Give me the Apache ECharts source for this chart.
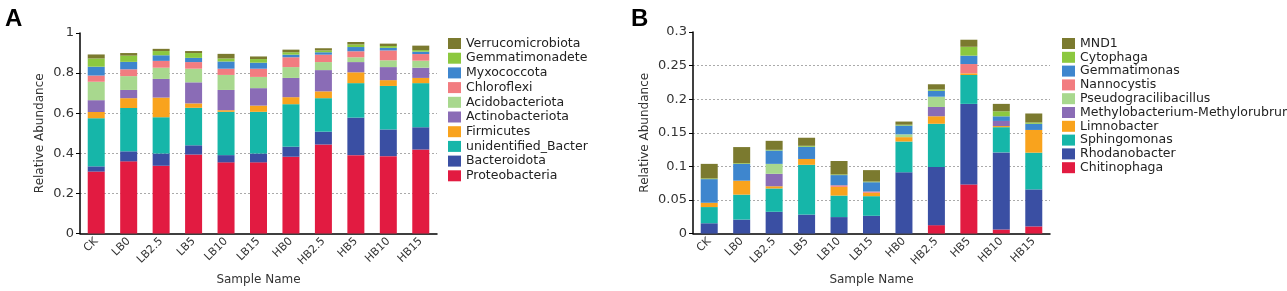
<!DOCTYPE html>
<html>
<head>
<meta charset="utf-8">
<script src="https://cdn.jsdelivr.net/npm/echarts@6/dist/echarts.min.js"></script>
<style>
  html, body { margin: 0; padding: 0; background: #fff; }
  #main { width: 1287px; height: 291px; }
</style>
</head>
<body>
<div id="main"></div>
<script>
var samples = ['CK', 'LB0', 'LB2.5', 'LB5', 'LB10', 'LB15', 'HB0', 'HB2.5', 'HB5', 'HB10', 'HB15'];
var ticksA = ['0', '0.2', '0.4', '0.6', '0.8', '1'];
var ticksB = ['0', '0.05', '0.1', '0.15', '0.2', '0.25', '0.3'];

// panel A - phylum level (bottom to top)
var phylaNames = ['Proteobacteria', 'Bacteroidota', 'unidentified_Bacter', 'Firmicutes', 'Actinobacteriota',
                  'Acidobacteriota', 'Chloroflexi', 'Myxococcota', 'Gemmatimonadete', 'Verrucomicrobiota'];
var proteobacteria    = [0.309, 0.360, 0.338, 0.394, 0.355, 0.355, 0.383, 0.444, 0.391, 0.386, 0.419];
var bacteroidota      = [0.026, 0.050, 0.061, 0.046, 0.036, 0.044, 0.050, 0.064, 0.187, 0.133, 0.111];
var unidentifiedBact  = [0.240, 0.216, 0.181, 0.187, 0.216, 0.208, 0.212, 0.167, 0.172, 0.217, 0.220];
var firmicutes        = [0.031, 0.049, 0.098, 0.022, 0.008, 0.031, 0.035, 0.034, 0.054, 0.029, 0.026];
var actinobacteriota  = [0.059, 0.041, 0.093, 0.105, 0.101, 0.087, 0.096, 0.106, 0.051, 0.065, 0.051];
var acidobacteriota   = [0.092, 0.069, 0.056, 0.068, 0.075, 0.056, 0.054, 0.040, 0.024, 0.034, 0.035];
var chloroflexi       = [0.031, 0.034, 0.034, 0.033, 0.031, 0.041, 0.049, 0.037, 0.030, 0.049, 0.033];
var myxococcota       = [0.044, 0.037, 0.028, 0.021, 0.036, 0.030, 0.013, 0.012, 0.021, 0.013, 0.012];
var gemmatimonadete   = [0.041, 0.031, 0.021, 0.024, 0.015, 0.018, 0.012, 0.009, 0.013, 0.009, 0.008];
var verrucomicrobiota = [0.020, 0.013, 0.011, 0.010, 0.023, 0.013, 0.013, 0.011, 0.012, 0.012, 0.022];
var phylaValues = [proteobacteria, bacteroidota, unidentifiedBact, firmicutes, actinobacteriota,
                   acidobacteriota, chloroflexi, myxococcota, gemmatimonadete, verrucomicrobiota];

// panel B - genus level (bottom to top)
var genusNames = ['Chitinophaga', 'Rhodanobacter', 'Sphingomonas', 'Limnobacter', 'Methylobacterium-Methylorubrum',
                  'Pseudogracilibacillus', 'Nannocystis', 'Gemmatimonas', 'Cytophaga', 'MND1'];
var chitinophaga   = [0, 0, 0, 0, 0, 0, 0, 0.0125, 0.0731, 0.0060, 0.0106];
var rhodanobacter  = [0.0153, 0.0208, 0.0324, 0.0282, 0.0245, 0.0264, 0.0912, 0.0865, 0.1199, 0.1148, 0.0551];
var sphingomonas   = [0.0241, 0.0371, 0.0347, 0.0741, 0.0320, 0.0292, 0.0458, 0.0644, 0.0430, 0.0375, 0.0547];
var limnobacter    = [0.0064, 0.0208, 0.0033, 0.0087, 0.0130, 0.0051, 0.0065, 0.0112, 0.0025, 0.0017, 0.0338];
var methylobacter  = [0, 0, 0.0185, 0, 0, 0, 0, 0.0138, 0, 0.0076, 0];
var pseudogracili  = [0, 0, 0.0148, 0, 0, 0, 0.0042, 0.0153, 0, 0, 0];
var nannocystis    = [0, 0, 0, 0, 0.0023, 0.0018, 0, 0, 0.0138, 0, 0];
var gemmatimonas   = [0.0352, 0.0250, 0.0199, 0.0182, 0.0152, 0.0139, 0.0130, 0.0088, 0.0125, 0.0069, 0.0092];
var cytophaga      = [0.0010, 0.0010, 0.0010, 0.0014, 0.0010, 0.0010, 0.0013, 0.0019, 0.0132, 0.0075, 0.0019];
var mnd1           = [0.0217, 0.0240, 0.0134, 0.0120, 0.0200, 0.0170, 0.0047, 0.0078, 0.0105, 0.0110, 0.0134];
var genusValues = [chitinophaga, rhodanobacter, sphingomonas, limnobacter, methylobacter,
                   pseudogracili, nannocystis, gemmatimonas, cytophaga, mnd1];

var colors = ['#E21B41', '#3A4FA3', '#16B6A9', '#F9A31D', '#8A6CB6',
              '#A8D88E', '#F27C80', '#3E86CE', '#8CC83F', '#7B7A2F'];

var font = 'DejaVu Sans';

function yAxisOf(idx, max, interval, gap, ticks) {
    return {
        type: 'value', gridIndex: idx, min: 0, max: max, interval: interval,
        name: 'Relative Abundance', nameLocation: 'middle', nameGap: gap,
        nameTextStyle: {fontFamily: font, fontSize: 12, color: '#333'},
        axisLine: {show: true, lineStyle: {color: '#000', width: 1.5}},
        axisTick: {show: true, length: 4, lineStyle: {color: '#000'}},
        axisLabel: {fontFamily: font, fontSize: 13, color: '#333', margin: 6,
                    formatter: function (v) { return ticks[Math.round(v / interval)]; }},
        splitLine: {show: true, showMaxLine: false, showMinLine: false,
                    lineStyle: {color: '#aaa', type: [2, 2], width: 1}}
    };
}
function xAxisOf(idx) {
    return {
        type: 'category', gridIndex: idx, data: samples,
        name: 'Sample Name', nameLocation: 'middle', nameGap: 32,
        nameTextStyle: {fontFamily: font, fontSize: 12, color: '#333'},
        axisLine: {lineStyle: {color: '#000', width: 1.5}},
        axisTick: {length: 4, lineStyle: {color: '#000'}},
        axisLabel: {fontFamily: font, fontSize: 11, color: '#333', rotate: 45, margin: 6, interval: 0}
    };
}

var series = [];
phylaNames.forEach(function (n, i) {
    series.push({name: n, type: 'bar', stack: 'a', xAxisIndex: 0, yAxisIndex: 0,
                 barWidth: 17, data: phylaValues[i], itemStyle: {color: colors[i]}});
});
genusNames.forEach(function (n, i) {
    series.push({name: n, type: 'bar', stack: 'b', xAxisIndex: 1, yAxisIndex: 1,
                 barWidth: 17, data: genusValues[i], itemStyle: {color: colors[i]}});
});

var legendCommon = {
    orient: 'vertical', top: 32, itemWidth: 13, itemHeight: 11,
    icon: 'rect', textStyle: {fontFamily: font, fontSize: 12.5, color: '#222'}
};

var option = {
    animation: false,
    title: [
        {text: 'A', left: 0, top: 2, textStyle: {fontFamily: 'Liberation Sans', fontSize: 24, fontWeight: 'bold', color: '#000'}},
        {text: 'B', left: 626, top: 2, textStyle: {fontFamily: 'Liberation Sans', fontSize: 24, fontWeight: 'bold', color: '#000'}}
    ],
    legend: [
        Object.assign({left: 443, itemGap: 1.7, data: phylaNames.slice().reverse()}, legendCommon),
        Object.assign({left: 1057, itemGap: 0.8, data: genusNames.slice().reverse()}, legendCommon)
    ],
    grid: [
        {left: 80, top: 33, width: 357, height: 215},
        {left: 693, top: 32, width: 357, height: 216}
    ],
    xAxis: [xAxisOf(0), xAxisOf(1)],
    yAxis: [yAxisOf(0, 1, 0.2, 34, ticksA), yAxisOf(1, 0.3, 0.05, 42, ticksB)],
    series: series
};

var chart = echarts.init(document.getElementById('main'));
chart.setOption(option);
</script>
</body>
</html>
